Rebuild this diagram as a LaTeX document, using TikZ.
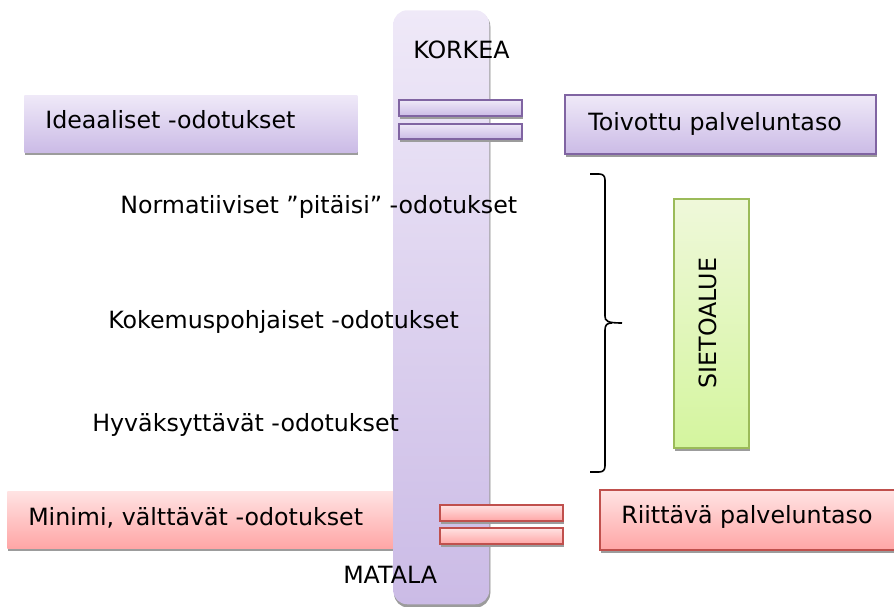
\documentclass[tikz,border=0pt]{standalone}
\usepackage{fontspec}
\setmainfont{DejaVu Sans}
\usetikzlibrary{shadows}

\definecolor{lavtop}{HTML}{EFE9F8}
\definecolor{lavbot}{HTML}{CBBBE6}
\definecolor{lavedge}{HTML}{8064A2}
\definecolor{redtop}{HTML}{FFE3E3}
\definecolor{redbot}{HTML}{FFA6A6}
\definecolor{rededge}{HTML}{C0504D}
\definecolor{grntop}{HTML}{EFF8DA}
\definecolor{grnbot}{HTML}{D4F59E}
\definecolor{grnedge}{HTML}{9BBB59}
\definecolor{shadegray}{HTML}{9C9C9C}

\begin{document}
\begin{tikzpicture}[x=0.75pt,y=-0.75pt,
  shadowed/.style={drop shadow={shadow xshift=0.6pt,shadow yshift=-2.4pt,fill=shadegray,opacity=1}},
  panel/.style={shadowed,inner sep=0pt,anchor=north west},
  lavpanel/.style={panel,top color=lavtop,bottom color=lavbot},
  redpanel/.style={panel,top color=redtop,bottom color=redbot},
  lavframe/.style={lavpanel,draw=lavedge,line width=1.3pt},
  redframe/.style={redpanel,draw=rededge,line width=1.3pt},
  grnframe/.style={panel,top color=grntop,bottom color=grnbot,draw=grnedge,line width=1.3pt},
  lbl/.style={font=\fontsize{17.8}{21}\selectfont,inner sep=0pt,anchor=base west},
  bracepen/.style={draw=black,line width=1.2pt},
]
\useasboundingbox (0,0) rectangle (894,607);

% side panels on the left and right
\node[lavpanel,minimum width=249.75pt,minimum height=42.75pt] (ideal) at (24,95) {};
\node[lavframe,minimum width=233.25pt,minimum height=44.25pt] (toivottu) at (564,94) {};
\node[redpanel,minimum width=294.75pt,minimum height=42.75pt] (minimi) at (7,491) {};
\node[redframe,minimum width=229.5pt,minimum height=45pt] (riittava) at (599,489) {};

% the vertical scale from high to low
\node[panel,top color=lavtop,bottom color=lavbot,rounded corners=10.5pt,
      drop shadow={shadow xshift=0.8pt,shadow yshift=-1.6pt,fill=shadegray,opacity=1},
      minimum width=72pt,minimum height=445.5pt] (scale) at (393,10) {};

% level markers on the scale
\node[lavframe,minimum width=92.25pt,minimum height=12pt] (pbar1) at (398,99) {};
\node[lavframe,minimum width=92.25pt,minimum height=11.25pt] (pbar2) at (398,123) {};
\node[redframe,minimum width=92.25pt,minimum height=12pt] (rbar1) at (439,504) {};
\node[redframe,minimum width=92.25pt,minimum height=12pt] (rbar2) at (439,527) {};

% tolerance zone
\node[grnframe,minimum width=56.25pt,minimum height=186.75pt] (sieto) at (673,198) {};
\node[font=\fontsize{17.8}{21}\selectfont,inner sep=0pt,rotate=90] (sietotxt) at (708,323) {SIETOALUE};

% brace spanning the tolerance zone
\coordinate (bracetop) at (590,174);
\coordinate (bracebot) at (590,472);
\coordinate (bracetip) at (622,323);
\draw[bracepen] (bracetop) -- (599,174) .. controls (603,174) and (605,176) .. (605,180)
  -- (605,316) .. controls (605,321) and (607,323) .. (bracetip);
\draw[bracepen] (bracebot) -- (599,472) .. controls (603,472) and (605,470) .. (605,466)
  -- (605,330) .. controls (605,325) and (607,323) .. (612,323);

% labels
\node[lbl] (idealtxt) at (45,128) {Ideaaliset -odotukset};
\node[lbl] (toivottutxt) at (588,130) {Toivottu palveluntaso};
\node[lbl] (korkea) at (413,58) {KORKEA};
\node[lbl] (normat) at (120,213) {Normatiiviset ”pitäisi” -odotukset};
\node[lbl] (kokemus) at (108,328) {Kokemuspohjaiset -odotukset};
\node[lbl] (hyvaks) at (92,431) {Hyväksyttävät -odotukset};
\node[lbl] (minimitxt) at (28,525) {Minimi, välttävät -odotukset};
\node[lbl] (riittavatxt) at (621,523) {Riittävä palveluntaso};
\node[lbl] (matala) at (343,583) {MATALA};
\end{tikzpicture}
\end{document}
